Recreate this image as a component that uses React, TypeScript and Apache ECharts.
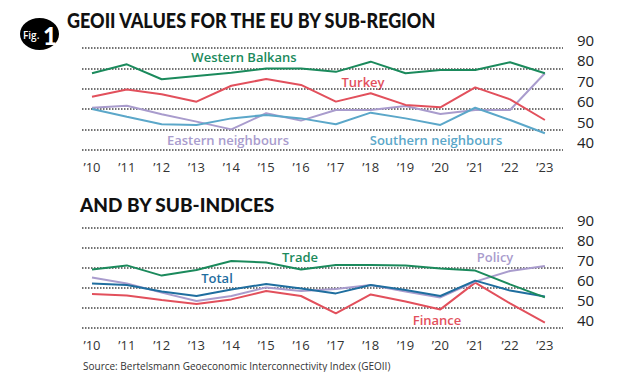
import React, { useEffect, useRef } from "react";
import * as echarts from "echarts";

const years = [2010, 2011, 2012, 2013, 2014, 2015, 2016, 2017, 2018, 2019, 2020, 2021, 2022, 2023];
const tickYears = years;

// Top panel: by sub-region
const westernBalkans = [77.6, 82, 74.7, 76.3, 77.9, 80, 79.9, 78.3, 83.3, 77.6, 79.2, 79.2, 83, 77.6];
const turkey = [66.1, 69.7, 67.3, 63.7, 71.5, 74.8, 71.9, 63.7, 67.8, 62.1, 60.9, 70.7, 64.8, 54.7];
const easternNeighbours = [60.7, 61.7, 57.5, 53.9, 50.1, 58, 54.4, 59.6, 59.6, 61.6, 57.6, 59.6, 59.6, 77.6];
const southernNeighbours = [60.1, 56.3, 52.6, 52.3, 55.5, 57.2, 55.5, 52.6, 58.3, 55.5, 52.3, 60.7, 54.7, 48.2];

// Bottom panel: by sub-indices
const trade = [69.3, 71.3, 66.2, 69, 73.5, 72.8, 69.3, 71.5, 71.5, 71.2, 69.8, 68.7, 61.8, 55.3];
const total = [62.3, 61.5, 58.2, 56, 59.3, 62, 59.8, 57.3, 61.5, 59, 56, 63.7, 58.7, 55.7];
const policy = [65.3, 62.3, 57.7, 53.5, 56, 60.3, 58.5, 59.5, 61.5, 58.2, 55.3, 63.2, 68.5, 71];
const finance = [57, 56.2, 54, 52, 54.3, 58.5, 56, 47.3, 56.8, 53.2, 49.3, 62.7, 52.3, 42.7];

const C_GREEN = "#1b8a5c";
const C_RED = "#e2505c";
const C_PURPLE = "#a99ccd";
const C_LBLUE = "#5ba7c9";
const C_DBLUE = "#1f6e9f";

const pairs = (vals: number[]) => years.map((y, i) => [y, vals[i]]);

const FONT = "Open Sans";

export default function App() {
  const ref = useRef<HTMLDivElement>(null);
  useEffect(() => {
    if (!ref.current) return;
    const chart = echarts.init(ref.current, null, { renderer: "svg" });
    const xAxisBase = (gridIndex: number) => ({
      type: "value" as const,
      gridIndex,
      min: 2009.713,
      max: 2023.52,
      axisLine: { show: false },
      axisTick: { show: false },
      splitLine: { show: false },
      axisLabel: {
        customValues: tickYears,
        formatter: (v: number) => "\u2019" + String(v).slice(2),
        color: "#333",
        fontSize: 13,
        fontFamily: FONT,
        margin: 10,
      },
    });
    const yAxisBase = (gridIndex: number) => ({
      type: "value" as const,
      gridIndex,
      position: "right" as const,
      min: 40,
      max: 90,
      interval: 10,
      axisLine: { show: false },
      axisTick: { show: false },
      splitLine: { show: true, lineStyle: { type: "dotted" as const, color: "#444", width: 1.5 } },
      axisLabel: {
        align: "left" as const,
        verticalAlign: "bottom" as const,
        margin: 14,
        fontSize: 15,
        fontFamily: FONT,
        color: "#222",
        lineHeight: 16,
      },
    });
    const line = (name: string, vals: number[], color: string, idx: number) => ({
      name,
      type: "line" as const,
      xAxisIndex: idx,
      yAxisIndex: idx,
      data: pairs(vals),
      showSymbol: false,
      symbol: "none",
      lineStyle: { color, width: 2 },
      itemStyle: { color },
    });
    const label = (text: string, x: number, y: number, color: string) => ({
      type: "text" as const,
      x,
      y,
      style: {
        text,
        fill: color,
        font: `600 13px "${FONT}"`,
        textAlign: "center" as const,
        textVerticalAlign: "middle" as const,
      },
    });
    chart.setOption({
      animation: false,
      backgroundColor: "#ffffff",
      grid: [
        { left: 82, right: 57, top: 48, height: 102 },
        { left: 82, right: 57, top: 228, height: 100 },
      ],
      xAxis: [xAxisBase(0), xAxisBase(1)],
      yAxis: [yAxisBase(0), yAxisBase(1)],
      series: [
        line("Eastern neighbours", easternNeighbours, C_PURPLE, 0),
        line("Southern neighbours", southernNeighbours, C_LBLUE, 0),
        line("Turkey", turkey, C_RED, 0),
        line("Western Balkans", westernBalkans, C_GREEN, 0),
        line("Finance", finance, C_RED, 1),
        line("Policy", policy, C_PURPLE, 1),
        line("Total", total, C_DBLUE, 1),
        line("Trade", trade, C_GREEN, 1),
      ],
      graphic: [
        { type: "ellipse", shape: { cx: 39.5, cy: 34, rx: 19.5, ry: 16 }, style: { fill: "#000" } },
        {
          type: "text",
          x: 23,
          y: 35,
          style: { text: "Fig.", fill: "#fff", font: `600 10px "${FONT}"`, textVerticalAlign: "middle" },
        },
        {
          type: "text",
          x: 43,
          y: 35,
          style: { text: "1", fill: "#fff", font: `900 24px "Lato"`, textVerticalAlign: "middle" },
        },
        {
          type: "text",
          x: 67,
          y: 24,
          scaleY: 1.18,
          originY: 24,
          style: {
            text: "GEOII VALUES FOR THE EU BY SUB-REGION",
            fill: "#111",
            font: `900 18px "Lato"`,
            textVerticalAlign: "middle",
          },
        },
        {
          type: "text",
          x: 80,
          y: 204,
          style: {
            text: "AND BY SUB-INDICES",
            fill: "#111",
            font: `900 19px "Lato"`,
            textVerticalAlign: "middle",
          },
        },
        label("Western Balkans", 244, 57, C_GREEN),
        label("Turkey", 363, 82, C_RED),
        label("Eastern neighbours", 228, 140, C_PURPLE),
        label("Southern neighbours", 436, 140, C_LBLUE),
        label("Trade", 300, 257, C_GREEN),
        label("Total", 217, 278, C_DBLUE),
        label("Policy", 495, 257, C_PURPLE),
        label("Finance", 437, 320, C_RED),
        {
          type: "text",
          x: 83,
          y: 366,
          style: {
            text: "Source: Bertelsmann Geoeconomic Interconnectivity Index (GEOII)",
            fill: "#333",
            font: `10px "${FONT}"`,
            textVerticalAlign: "middle",
          },
        },
      ],
    });
    return () => chart.dispose();
  }, []);
  return (
    <div
      ref={ref}
      style={{ position: "fixed", left: 0, top: 0, width: 620, height: 372, background: "#fff" }}
    />
  );
}
